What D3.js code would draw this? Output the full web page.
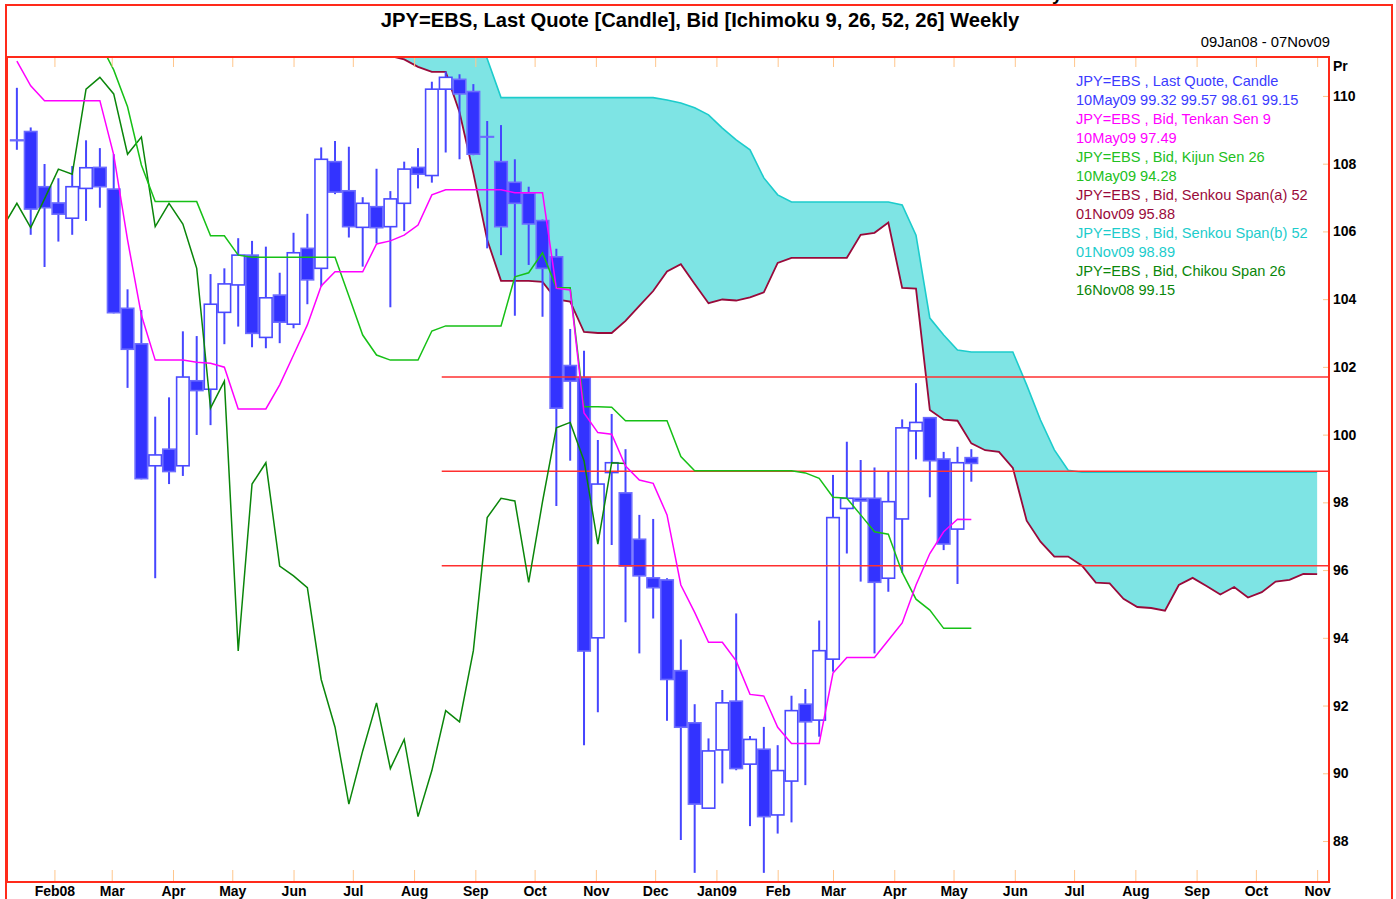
<!DOCTYPE html>
<html>
<head>
<meta charset="utf-8">
<script src="https://cdn.jsdelivr.net/npm/d3@7"></script>
<style>
body { margin: 0; background: #fff; }
text { font-family: "Liberation Sans", Arial, sans-serif; }
</style>
</head>
<body>
<div id="chart"></div>
<script>
// weekly candles, first one dated Sunday 13Jan08
var candleStart = '2008-01-13'
var open  = [108.70,108.95,107.32,106.84,106.39,107.27,107.89,107.25,103.73,102.68,99.08,99.57,99.08,101.59,101.34,103.61,104.42,105.30,102.87,104.12,103.26,105.50,104.91,108.06,107.20,106.12,106.73,106.14,106.83,107.89,107.65,110.20,110.49,110.13,108.80,108.06,107.45,107.13,106.32,105.25,102.04,101.68,94.00,98.88,98.28,96.91,95.77,95.71,93.03,91.49,88.97,90.69,92.13,90.27,90.71,88.77,89.77,92.04,91.57,93.37,97.82,98.12,98.12,95.76,97.51,100.11,100.50,99.28,97.21,99.32]
var high  = [110.24,109.07,107.99,107.57,107.93,108.69,108.46,108.28,104.29,103.68,100.53,101.10,103.05,102.91,104.74,104.91,105.80,105.72,105.55,104.78,105.96,106.52,108.48,108.67,108.50,107.01,107.85,107.19,108.06,108.46,110.42,110.72,110.64,110.35,109.26,109.14,108.13,107.32,106.35,105.49,103.12,102.48,99.84,100.61,99.57,97.63,97.51,95.76,93.95,92.04,91.03,92.46,94.72,91.10,91.37,90.83,92.29,92.49,94.51,98.81,99.79,99.25,99.03,98.90,100.45,101.52,100.50,99.49,99.64,99.57]
var low   = [108.41,105.90,104.95,105.70,105.90,106.31,106.70,103.58,101.38,98.68,95.76,98.54,98.78,99.99,100.28,102.67,103.19,102.58,102.55,102.70,103.14,103.85,104.37,107.10,105.82,104.96,105.65,103.76,106.01,107.27,107.44,108.33,108.13,108.25,105.50,105.30,103.51,105.01,103.48,97.89,99.23,90.83,91.80,96.74,94.46,93.54,94.57,91.55,88.03,87.06,88.95,89.70,90.09,88.44,87.06,88.22,88.55,89.65,91.08,93.00,96.49,95.66,93.54,95.36,95.92,99.27,98.15,96.59,95.59,98.61]
var close = [108.68,106.66,106.70,106.51,107.32,107.88,107.32,103.60,102.52,98.70,99.40,98.91,101.70,101.30,103.85,104.45,105.30,102.99,104.04,103.32,105.37,104.57,108.13,107.16,106.14,106.83,106.11,106.96,107.84,107.69,110.20,110.55,110.06,108.28,108.79,106.14,106.83,106.22,104.91,100.78,101.58,93.61,98.54,99.17,96.12,95.83,95.48,92.77,91.36,89.09,90.66,92.08,90.14,91.00,88.72,90.08,91.85,91.52,93.62,97.55,98.12,98.04,95.64,98.02,100.20,100.36,99.23,96.77,99.17,99.15]

// Tenkan Sen 9 and Kijun Sen 26, same weeks as the candles
var tenkan = [111.03,110.30,109.86,109.86,109.86,109.86,109.86,108.26,105.75,103.53,102.20,102.20,102.20,102.14,102.11,101.99,100.76,100.76,100.76,101.47,102.35,103.24,104.39,104.81,104.81,104.81,105.63,105.72,105.89,106.19,107.08,107.23,107.23,107.23,107.23,107.23,107.14,107.14,107.14,104.32,104.27,100.64,100.06,100.01,99.07,98.66,98.56,97.63,95.56,94.75,93.87,93.87,93.32,92.33,92.28,91.36,90.88,90.88,90.88,92.96,93.42,93.42,93.42,93.93,94.44,95.56,96.49,97.13,97.50,97.49]
var kijun  = [112.50,112.50,112.50,112.30,111.86,111.56,111.56,110.77,109.68,107.96,106.88,106.88,106.88,106.88,105.87,105.87,105.30,105.24,105.24,105.24,105.24,105.24,105.24,105.24,104.09,102.94,102.35,102.20,102.20,102.20,103.06,103.21,103.21,103.21,103.21,103.21,104.66,104.78,105.37,104.34,104.34,100.82,100.82,100.81,100.41,100.41,100.41,100.41,99.35,98.93,98.93,98.93,98.93,98.93,98.93,98.93,98.93,98.87,98.71,98.15,98.12,97.63,97.13,97.06,95.93,95.14,94.82,94.28,94.28,94.28]

// Senkou spans, plotted 26 weeks ahead (06Jul08 .. 01Nov09)
var spanStart = '2008-07-06'
var spanA = [111.77,111.40,111.18,111.08,110.86,110.71,110.71,109.52,107.72,105.75,104.54,104.54,104.54,104.51,103.99,103.93,103.03,103.00,103.00,103.36,103.80,104.24,104.82,105.03,104.45,103.88,103.99,103.96,104.05,104.20,105.07,105.22,105.22,105.22,105.22,105.22,105.90,105.96,106.26,104.33,104.31,100.73,100.44,100.41,99.74,99.54,99.49,99.02,97.46,96.84,96.40,96.40,96.13,95.63,95.61,95.15,94.91,94.88,94.80,95.56,95.77,95.53,95.28,95.50,95.19,95.35,95.66,95.71,95.89,95.88]
var spanB = [112.0,112.0,112.0,112.0,112.0,112.0,112.0,112.0,112.0,111.10,109.95,109.95,109.95,109.95,109.95,109.95,109.95,109.95,109.95,109.95,109.95,109.95,109.88,109.79,109.65,109.44,109.05,108.70,108.41,107.58,107.08,106.87,106.87,106.87,106.87,106.87,106.87,106.87,106.87,106.78,105.89,103.44,102.94,102.50,102.44,102.44,102.44,102.44,101.47,100.43,99.55,98.95,98.89,98.89,98.89,98.89,98.89,98.89,98.89,98.89,98.89,98.89,98.89,98.89,98.89,98.89,98.89,98.89,98.89,98.89]

// Chikou Span 26, plotted 26 weeks back (06Jan08 .. 16Nov08)
var chikouStart = '2008-01-06'
var chikou = [106.14,106.83,106.11,106.96,107.84,107.69,110.20,110.55,110.06,108.28,108.79,106.14,106.83,106.22,104.91,100.78,101.58,93.61,98.54,99.17,96.12,95.83,95.48,92.77,91.36,89.09,90.66,92.08,90.14,91.00,88.72,90.08,91.85,91.52,93.62,97.55,98.12,98.04,95.64,98.02,100.20,100.36,99.23,96.77,99.17,99.15]

// horizontal levels drawn from mid Aug 08
var levelStart = '2008-08-15'
var levels = [101.70, 98.92, 96.13]

var yTicks = [88, 90, 92, 94, 96, 98, 100, 102, 104, 106, 108, 110]

var legend = [
  ['JPY=EBS , Last Quote, Candle', '#3b3bff'],
  ['10May09 99.32 99.57 98.61 99.15', '#3b3bff'],
  ['JPY=EBS , Bid, Tenkan Sen 9', '#ff00ff'],
  ['10May09 97.49', '#ff00ff'],
  ['JPY=EBS , Bid, Kijun Sen 26', '#22c022'],
  ['10May09 94.28', '#22c022'],
  ['JPY=EBS , Bid, Senkou Span(a) 52', '#9a0a3a'],
  ['01Nov09 95.88', '#9a0a3a'],
  ['JPY=EBS , Bid, Senkou Span(b) 52', '#1ccccc'],
  ['01Nov09 98.89', '#1ccccc'],
  ['JPY=EBS , Bid, Chikou Span 26', '#0a860a'],
  ['16Nov08 99.15', '#0a860a']
]

var parse = d3.utcParse('%Y-%m-%d')
function weekly(start, n){
  var d0 = parse(start)
  return d3.range(n).map(function(i){ return d3.utcDay.offset(d0, 7 * i) })
}

var W = 1396, H = 899
var plot = {left: 7, right: 1329, top: 57, bottom: 882}

var svg = d3.select('#chart').append('svg').attr('width', W).attr('height', H)

var x = d3.scaleUtc()
  .domain([parse('2008-01-08'), parse('2009-11-07')])
  .range([plot.left, plot.right])
var y = d3.scaleLinear().domain([86.79, 111.15]).range([plot.bottom, plot.top])

var candleDates = weekly(candleStart, open.length)
var candles = candleDates.map(function(d, i){
  return {date: d, o: open[i], h: high[i], l: low[i], c: close[i]}
})
var pts = function(start, vals){
  var ds = weekly(start, vals.length)
  return vals.map(function(v, i){ return {date: ds[i], v: v} })
}

// outer frame, title
svg.append('rect').attr('x', 6).attr('y', 5).attr('width', 1386).attr('height', 910)
  .attr('fill', 'none').attr('stroke', '#ff2a1a').attr('stroke-width', 2)
svg.append('text').attr('x', 1052).attr('y', 0).attr('font-size', 19).attr('font-weight', 'bold').text('y')
svg.append('text').attr('x', 700).attr('y', 27).attr('text-anchor', 'middle')
  .attr('font-size', 20.2).attr('font-weight', 'bold')
  .text('JPY=EBS, Last Quote [Candle], Bid [Ichimoku 9, 26, 52, 26] Weekly')
svg.append('text').attr('x', 1330).attr('y', 47).attr('text-anchor', 'end')
  .attr('font-size', 14.8).text('09Jan08 - 07Nov09')

svg.append('clipPath').attr('id', 'clip').append('rect')
  .attr('x', plot.left).attr('y', plot.top)
  .attr('width', plot.right - plot.left).attr('height', plot.bottom - plot.top)

var g = svg.append('g').attr('clip-path', 'url(#clip)')

// axes (ticks inside the plot)
var months = d3.utcMonth.range(parse('2008-02-01'), parse('2009-11-02'))
var monthFmt = function(d, i){
  return (i == 0 || d.getUTCMonth() == 0) ? d3.utcFormat('%b%y')(d) : d3.utcFormat('%b')(d)
}
svg.append('g').attr('transform', 'translate(0,' + plot.bottom + ')')
  .call(d3.axisBottom(x).tickValues(months).tickFormat(monthFmt).tickSize(-12).tickPadding(4))
svg.append('g').attr('transform', 'translate(0,' + plot.top + ')')
  .call(d3.axisTop(x).tickValues(months).tickFormat('').tickSize(-10))
svg.append('g').attr('transform', 'translate(' + plot.right + ',0)')
  .call(d3.axisRight(y).tickValues(yTicks).tickSize(-6).tickPadding(4))
svg.selectAll('.domain').remove()
svg.selectAll('.tick line').attr('stroke', '#ffc68c').attr('stroke-width', 1)
svg.selectAll('.tick text').attr('fill', '#000').attr('font-size', 14).attr('font-weight', 'bold')
  .attr('font-family', '"Liberation Sans", Arial, sans-serif')
svg.append('text').attr('x', 1333).attr('y', 71).attr('font-size', 14).attr('font-weight', 'bold').text('Pr')

// cloud
var a = pts(spanStart, spanA), b = pts(spanStart, spanB)
var cloud = d3.area()
  .x(function(d){ return x(d.date) })
  .y0(function(d){ return y(d.v) })
  .y1(function(d, i){ return y(b[i].v) })
g.append('path').attr('d', cloud(a)).attr('fill', '#7ee4e4')

var line = d3.line().x(function(d){ return x(d.date) }).y(function(d){ return y(d.v) })

g.append('path').attr('d', line(b)).attr('fill', 'none').attr('stroke', '#1ccccc').attr('stroke-width', 1.6)
g.append('path').attr('d', line(a)).attr('fill', 'none').attr('stroke', '#990a3a').attr('stroke-width', 1.8)

// candles
var bw = 12.5
var cs = g.append('g').selectAll('g').data(candles).join('g')
cs.append('line')
  .attr('x1', function(d){ return x(d.date) }).attr('x2', function(d){ return x(d.date) })
  .attr('y1', function(d){ return y(d.h) }).attr('y2', function(d){ return y(d.l) })
  .attr('stroke', '#4646ff').attr('stroke-width', 2)
cs.append('rect')
  .attr('x', function(d){ return x(d.date) - bw / 2 })
  .attr('width', bw)
  .attr('y', function(d){ return y(Math.max(d.o, d.c)) })
  .attr('height', function(d){ return Math.max(0.5, Math.abs(y(d.o) - y(d.c))) })
  .attr('fill', function(d){ return d.c < d.o ? '#3333ff' : '#fff' })
  .attr('stroke', function(d){ return d.c < d.o ? '#6c6cff' : '#4a4aff' })
  .attr('stroke-width', 1.6)

// levels
g.selectAll('.level').data(levels).join('line').attr('class', 'level')
  .attr('x1', x(parse(levelStart))).attr('x2', plot.right)
  .attr('y1', function(d){ return y(d) }).attr('y2', function(d){ return y(d) })
  .attr('stroke', '#ff3030').attr('stroke-width', 1.5)

// indicator lines
g.append('path').attr('d', line(pts(chikouStart, chikou))).attr('fill', 'none').attr('stroke', '#0a860a').attr('stroke-width', 1.5)
g.append('path').attr('d', line(pts(candleStart, kijun))).attr('fill', 'none').attr('stroke', '#16c016').attr('stroke-width', 1.5)
g.append('path').attr('d', line(pts(candleStart, tenkan))).attr('fill', 'none').attr('stroke', '#ff00ff').attr('stroke-width', 1.5)

// plot frame
svg.append('rect').attr('x', plot.left).attr('y', plot.top)
  .attr('width', plot.right - plot.left).attr('height', plot.bottom - plot.top)
  .attr('fill', 'none').attr('stroke', '#ff2a1a').attr('stroke-width', 2)

// legend
svg.append('g').selectAll('text').data(legend).join('text')
  .attr('x', 1076).attr('y', function(d, i){ return 86 + 19 * i })
  .attr('font-size', 14.6).attr('fill', function(d){ return d[1] })
  .text(function(d){ return d[0] })
</script>
</body>
</html>
